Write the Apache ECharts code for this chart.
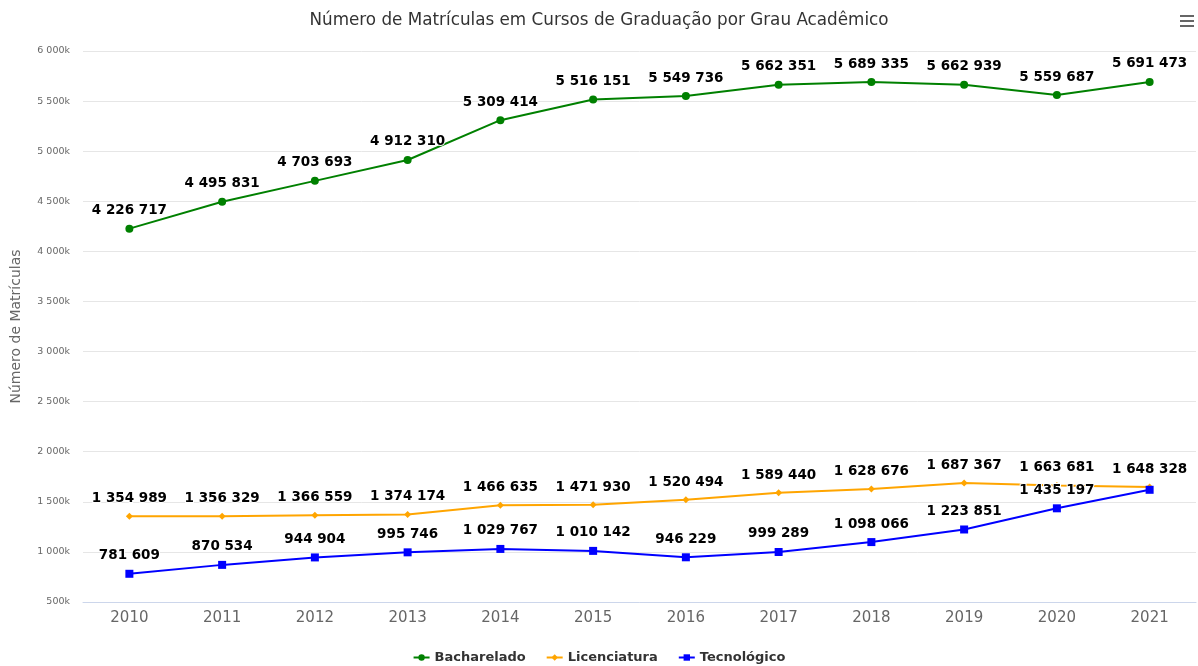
<!DOCTYPE html>
<html>
<head>
<meta charset="utf-8">
<script src="https://cdn.jsdelivr.net/npm/echarts@6/dist/echarts.min.js"></script>
<style>
html,body{margin:0;padding:0;background:#fff;}
#main{width:1198px;height:666px;}
</style>
</head>
<body>
<div id="main"></div>
<script>
var anos = ['2010','2011','2012','2013','2014','2015','2016','2017','2018','2019','2020','2021'];
var bacharelado = [4226717,4495831,4703693,4912310,5309414,5516151,5549736,5662351,5689335,5662939,5559687,5691473];
var licenciatura = [1354989,1356329,1366559,1374174,1466635,1471930,1520494,1589440,1628676,1687367,1663681,1648328];
// ultimo ponto (rotulo escondido no original)
var tecnologico = [781609,870534,944904,995746,1029767,1010142,946229,999289,1098066,1223851,1435197,1620000];
var rotuloOculto = [11];

var fonte = '"DejaVu Sans", Verdana, sans-serif';

function milhar(v){
	return String(v).replace(/\B(?=(\d{3})+(?!\d))/g,' ');
}

function rotulo(){
	return {
		show:true,
		position:'top',
		distance:7,
		fontFamily:fonte,
		fontSize:13.5,
		fontWeight:'bold',
		color:'#000',
		textBorderColor:'#fff',
		textBorderWidth:2,
		formatter:function(p){ return milhar(p.value); }
	};
}

function serie(nome,valores,cor,simbolo,tam,ocultos){
	var dados = [];
	for(var i=0;i<valores.length;i++){
		if(ocultos && ocultos.indexOf(i)>=0){
			dados.push({value:valores[i],label:{show:false}});
		}else{
			dados.push(valores[i]);
		}
	}
	return {
		name:nome,
		type:'line',
		data:dados,
		symbol:simbolo,
		symbolSize:tam,
		showAllSymbol:true,
		color:cor,
		lineStyle:{width:2,color:cor},
		itemStyle:{color:cor},
		label:rotulo(),
		emphasis:{disabled:true},
		animation:false
	};
}

var myChart = echarts.init(document.getElementById('main'));
var option = {
	backgroundColor:'#fff',
	title:{
		text:'Número de Matrículas em Cursos de Graduação por Grau Acadêmico',
		left:'center',
		top:7,
		textStyle:{fontFamily:fonte,fontSize:16.8,fontWeight:'normal',color:'#333'}
	},
	legend:{
		bottom:2,
		left:'center',
		padding:0,
		itemWidth:16,
		itemHeight:8,
		itemGap:20,
		textStyle:{fontFamily:fonte,fontSize:13,fontWeight:'bold',color:'#333'},
		data:['Bacharelado','Licenciatura','Tecnológico']
	},
	grid:{left:83,right:2,top:51,bottom:64,containLabel:false,outerBoundsMode:'none'},
	xAxis:{
		type:'category',
		data:anos,
		boundaryGap:true,
		axisLine:{lineStyle:{color:'#ccd6eb'}},
		axisTick:{show:false},
		axisLabel:{fontFamily:fonte,fontSize:15,color:'#666',margin:9}
	},
	yAxis:{
		type:'value',
		min:500000,
		max:6000000,
		interval:500000,
		name:'Número de Matrículas',
		nameLocation:'middle',
		nameGap:60,
		nameTextStyle:{fontFamily:fonte,fontSize:14,color:'#666'},
		axisLine:{show:false},
		axisTick:{show:false},
		splitLine:{lineStyle:{color:'#e6e6e6'}},
		axisLabel:{
			fontFamily:fonte,fontSize:9.5,color:'#666',margin:13,
			formatter:function(v){ return milhar(v/1000)+'k'; }
		}
	},
	graphic:[
		{type:'rect',right:4,top:15,shape:{width:14,height:2},style:{fill:'#666'}},
		{type:'rect',right:4,top:20,shape:{width:14,height:2},style:{fill:'#666'}},
		{type:'rect',right:4,top:25,shape:{width:14,height:2},style:{fill:'#666'}}
	],
	series:[
		serie('Bacharelado',bacharelado,'#008000','circle',8),
		serie('Licenciatura',licenciatura,'#ffa500','diamond',7),
		serie('Tecnológico',tecnologico,'#0000ff','rect',8,rotuloOculto)
	]
};
myChart.setOption(option);
</script>
</body>
</html>
